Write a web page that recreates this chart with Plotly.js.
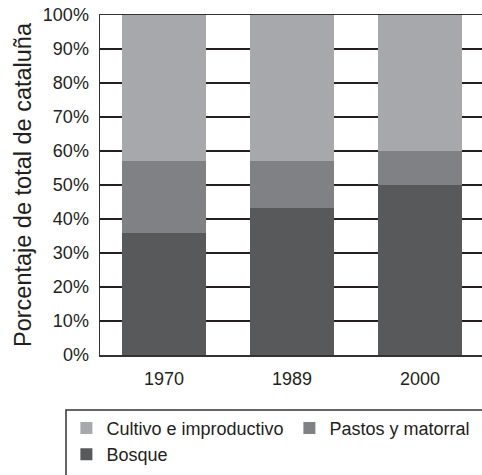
<!DOCTYPE html>
<html><head><meta charset="utf-8">
<script src="https://cdn.plot.ly/plotly-3.0.1.min.js"></script>
<style>html,body{margin:0;padding:0;background:#fff}</style>
</head><body><div id="chart" style="width:482px;height:475px"></div>
<script>
const years = ['1970', '1989', '2000'];
const bosque = [36.0, 43.3, 50.0];
const pastos = [21.1, 13.8, 10.1];
const cultivo = [42.9, 42.9, 39.9];
const yTicks = [0,10,20,30,40,50,60,70,80,90,100];
const yTickText = yTicks.map(v => v + '%');

const FONT = 'Liberation Sans, Arial, sans-serif';
const traces = [
  {type:'bar', name:'Bosque', x:years, y:bosque, marker:{color:'#58595b'}, legendrank:3},
  {type:'bar', name:'Pastos y matorral', x:years, y:pastos, marker:{color:'#808184'}, legendrank:2},
  {type:'bar', name:'Cultivo e improductivo', x:years, y:cultivo, marker:{color:'#a7a8ab'}, legendrank:1}
];
const layout = {
  width:482, height:475,
  margin:{l:100, r:0, t:15, b:120, autoexpand:false},
  barmode:'stack', bargap:0.35,
  paper_bgcolor:'#fff', plot_bgcolor:'#fff',
  font:{family:FONT, size:18, color:'#231f20'},
  xaxis:{type:'category', range:[-0.5, 2.484], showgrid:false, showline:true, mirror:true,
         linecolor:'#333', linewidth:1.5, ticks:'', tickfont:{size:18}, ticklabelstandoff:7, fixedrange:true},
  yaxis:{range:[0,100], tickvals:yTicks, ticktext:yTickText, showgrid:true, gridcolor:'#231f20',
         gridwidth:1.3, showline:true, linecolor:'#333', linewidth:1.5, zeroline:false, ticks:'',
         ticklabelstandoff:6, tickfont:{size:18},
         title:{text:'Porcentaje de total de cataluña', font:{size:23.5}, standoff:4}},
  showlegend:true,
  legend:{orientation:'h', traceorder:'normal', x:-0.088, y:-0.161, xanchor:'left', yanchor:'top',
          entrywidth:178, entrywidthmode:'pixels', font:{size:18}, bgcolor:'rgba(0,0,0,0)'},
  shapes:[{type:'rect', xref:'paper', yref:'paper', x0:(66-100)/382, x1:1.2, y0:(355-410)/340, y1:-0.6,
           line:{color:'#333', width:1.5}, fillcolor:'rgba(0,0,0,0)', layer:'below'}]
};
Plotly.newPlot('chart', traces, layout, {displayModeBar:false, staticPlot:true});
</script></body></html>
